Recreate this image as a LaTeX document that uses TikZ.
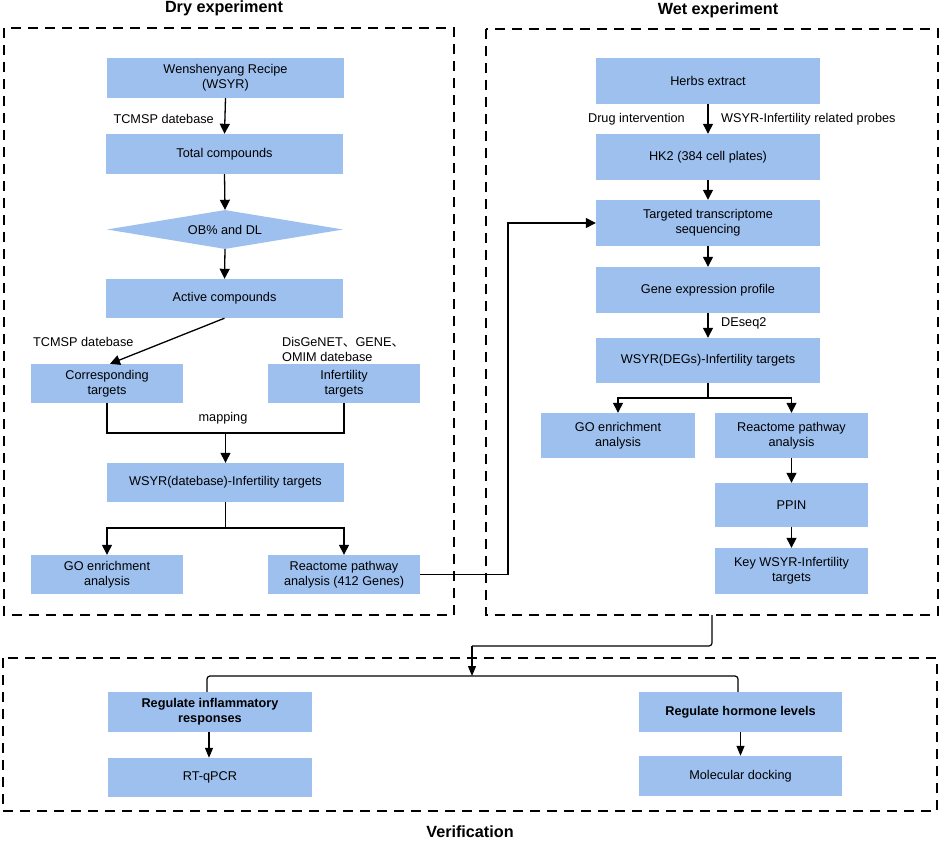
\documentclass[tikz,border=0pt]{standalone}
\usepackage{fontspec}
\setmainfont{Liberation Sans}
\newfontfamily\cjkfont{Noto Sans CJK SC}
\usetikzlibrary{shapes.geometric,arrows.meta}
\definecolor{boxblue}{HTML}{9DC0EF}
\newcommand{\myBody}{\fontsize{12.7}{15.3}\selectfont}
\newcommand{\myTitle}{\fontsize{16.2}{19}\selectfont\bfseries}
\begin{document}
\begin{tikzpicture}[x=1pt,y=-1pt,
  box/.style={rectangle, fill=boxblue, draw=none, inner sep=0pt, align=center, font=\myBody},
  lbl/.style={inner sep=0pt, font=\myBody, align=left},
  arr/.style={line width=1.3pt, -{Triangle[length=10pt,width=10pt]}},
  varr/.style={line width=1.2pt, -{Triangle[length=10pt,width=8pt]}},
  conn/.style={line width=1.3pt},
  frame/.style={line width=2.6pt, dash pattern=on 10pt off 7pt},
  ttl/.style={font=\myTitle, inner sep=0pt, anchor=base}]
\useasboundingbox (0,0) rectangle (941,840);

% frames
\draw[frame] (4,28) rectangle (454,615);
\draw[frame] (486,29) rectangle (938,615);
\draw[frame] (3,658) rectangle (937,811);

% titles
\node[ttl] (tdry) at (224,13) {Dry experiment};
\node[ttl] (twet) at (718,14.5) {Wet experiment};
\node[ttl] (tver) at (470,837) {Verification};

% dry experiment
\node[box, minimum width=237pt, minimum height=40pt] (wsyr) at (225.5,78) {Wenshenyang Recipe\\(WSYR)};
\node[box, minimum width=237pt, minimum height=40pt] (total) at (224.5,154) {Total compounds};
\node[diamond, fill=boxblue, inner sep=0pt, shape aspect=6, minimum width=236pt, minimum height=39pt, font=\myBody] (obdl) at (225,229.5) {OB\% and DL};
\node[box, minimum width=237pt, minimum height=39pt] (active) at (224.5,298.5) {Active compounds};
\node[box, minimum width=152pt, minimum height=39pt] (corr) at (107,383.5) {Corresponding\\targets};
\node[box, minimum width=152pt, minimum height=39pt] (infert) at (344,383.5) {Infertility\\targets};
\node[box, minimum width=237pt, minimum height=39pt] (wsyrdb) at (225.5,482.5) {WSYR(datebase)-Infertility targets};
\node[box, minimum width=152pt, minimum height=39pt] (go1) at (107,574.5) {GO enrichment\\analysis};
\node[box, minimum width=152pt, minimum height=39pt] (react1) at (344,574.5) {Reactome pathway\\analysis (412 Genes)};

\node[lbl, anchor=east] (l1) at (214,119) {TCMSP datebase};
\node[lbl, anchor=west] (l2) at (33,342) {TCMSP datebase};
\node[lbl, anchor=west] (l3) at (282,349.5) {DisGeNET{\cjkfont 、}GENE{\cjkfont 、}\\OMIM datebase};
\node[lbl] (l4) at (223,418) {mapping};

\draw[arr] (wsyr.south) -- (total.north);
\draw[arr] (total.south) -- (obdl.north);
\draw[arr] (obdl.south) -- (active.north);
\draw[arr] (active.south) -- ([xshift=3pt]corr.north);
\coordinate (mapjoin) at (225.5,433);
\draw[conn] (corr.south) |- (mapjoin) -| (infert.south);
\draw[arr] (mapjoin) -- (wsyrdb.north);
\coordinate (split1) at (225.5,528);
\draw[conn] (wsyrdb.south) -- (split1);
\draw[arr] (split1) -| (go1.north);
\draw[arr] (split1) -| (react1.north);

% wet experiment
\node[box, minimum width=224pt, minimum height=46pt] (herbs) at (708,81) {Herbs extract};
\node[box, minimum width=224pt, minimum height=46pt] (hk2) at (708,157) {HK2 (384 cell plates)};
\node[box, minimum width=224pt, minimum height=46pt] (targ) at (708,223) {Targeted transcriptome\\sequencing};
\node[box, minimum width=224pt, minimum height=46pt] (gene) at (708,290) {Gene expression profile};
\node[box, minimum width=224pt, minimum height=45pt] (degs) at (708,360.5) {WSYR(DEGs)-Infertility targets};
\node[box, minimum width=154pt, minimum height=45pt] (go2) at (618,435.5) {GO enrichment\\analysis};
\node[box, minimum width=153pt, minimum height=45pt] (react2) at (791.5,435.5) {Reactome pathway\\analysis};
\node[box, minimum width=153pt, minimum height=44pt] (ppin) at (791.5,505) {PPIN};
\node[box, minimum width=153pt, minimum height=46pt] (key) at (791.5,571) {Key WSYR-Infertility\\targets};

\node[lbl, anchor=east] (l5) at (685,119) {Drug intervention};
\node[lbl, anchor=west] (l6) at (721,119) {WSYR-Infertility related probes};
\node[lbl, anchor=west] (l7) at (721,323) {DEseq2};

\draw[arr] (herbs.south) -- (hk2.north);
\draw[arr] (hk2.south) -- (targ.north);
\draw[arr] (targ.south) -- (gene.north);
\draw[arr] (gene.south) -- (degs.north);
\coordinate (split2) at (708,398);
\draw[conn] (degs.south) -- (split2);
\draw[arr] (split2) -| (go2.north);
\draw[arr] (split2) -| (react2.north);
\draw[arr] (react2.south) -- (ppin.north);
\draw[arr] (ppin.south) -- (key.north);

% dry -> wet
\coordinate (bend1) at (508,223);
\draw[arr] (react1.east) -| (bend1) -- (targ.west);

% verification
\node[box, minimum width=204pt, minimum height=40pt, font=\myBody\bfseries] (reginf) at (210,712) {Regulate inflammatory\\responses};
\node[box, minimum width=204pt, minimum height=39pt] (rtq) at (210,777.5) {RT-qPCR};
\node[box, minimum width=203pt, minimum height=40pt, font=\myBody\bfseries] (reghor) at (740.5,712) {Regulate hormone levels};
\node[box, minimum width=203pt, minimum height=40pt] (mol) at (740.5,776) {Molecular docking};

\coordinate (wetout) at (712,615);
\coordinate (vmid) at (472,646);
\coordinate (vjoin) at (472,676);
\draw[conn, line width=1.2pt, rounded corners=3pt] (wetout) |- (vmid);
\draw[varr] (vmid) -- (vjoin);
\draw[conn, line width=1.2pt, rounded corners=3pt] ([xshift=-3pt]reginf.north) |- (vjoin) -| ([xshift=-2.5pt]reghor.north);
\draw[varr] ([xshift=-1pt]reginf.south) -- ([xshift=-1pt]rtq.north);
\draw[varr] (reghor.south) -- (reghor.south |- mol.north);
\end{tikzpicture}
\end{document}
